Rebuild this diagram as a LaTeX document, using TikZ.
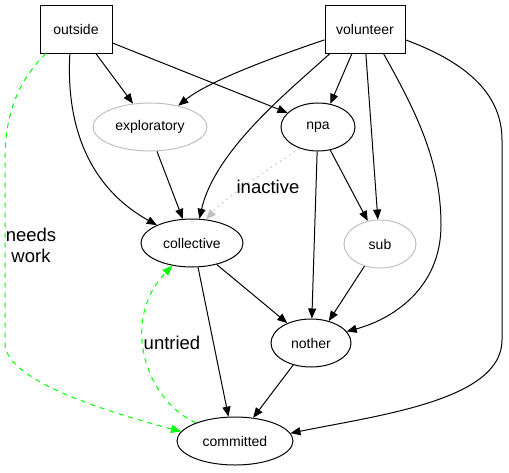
\documentclass[tikz,border=0pt]{standalone}
\usepackage{fontspec}
\setmainfont{Liberation Sans}
\usetikzlibrary{shapes.geometric,arrows.meta}
\definecolor{lime}{HTML}{00FF00}
\definecolor{silver}{HTML}{C0C0C0}
\tikzset{
  boxnode/.style={draw=black,line width=1pt,rectangle,minimum width=72pt,minimum height=48pt,inner sep=0pt,font=\fontsize{14}{16}\selectfont},
  ellnode/.style={draw=black,line width=1pt,ellipse,minimum height=48pt,inner sep=0pt,font=\fontsize{14}{16}\selectfont},
  greynode/.style={ellnode,draw=silver},
  edge/.style={line width=1pt,-{Triangle[length=10pt,width=8pt]}},
  greenedge/.style={edge,draw=lime,dash pattern=on 5pt off 5pt,-{Triangle[length=10pt,width=8pt,fill=lime]},color=lime},
  greyedge/.style={edge,draw=silver,dash pattern=on 1.5pt off 4pt,color=silver},
  elabel/.style={font=\fontsize{18.5}{21}\selectfont,align=center,inner sep=0pt}
}
\begin{document}
\begin{tikzpicture}[x=1pt,y=-1pt]
\useasboundingbox (0,0) rectangle (509,472);
\node[boxnode] (outside) at (76,29) {outside};
\node[boxnode,minimum width=80pt] (volunteer) at (365,29) {volunteer};
\node[greynode,minimum width=114pt] (exploratory) at (150,127) {exploratory};
\node[ellnode,minimum width=74pt] (npa) at (318,127) {npa};
\node[ellnode,minimum width=102pt] (collective) at (192,243) {collective};
\node[greynode,minimum width=72pt] (sub) at (380,244) {sub};
\node[ellnode,minimum width=80pt] (nother) at (311,343) {nother};
\node[ellnode,minimum width=116pt] (committed) at (235,441) {committed};

% outside edges
\draw[edge] (outside.-51.6) -- (exploratory.126);
\draw[edge] (outside.-21) -- (npa.155);
\draw[edge] (outside.-104) .. controls (66,120) and (85,185) .. (collective.153);
\draw[greenedge] (outside.-141) .. controls (20,80) and (5,110) .. (5,160) -- (5,345) .. controls (8,380) and (100,410) .. (committed.170);
\node[elabel] (needswork) at (31,245) {needs\\work};

% volunteer edges
\draw[edge] (volunteer.-165) .. controls (280,55) and (210,80) .. (exploratory.37);
\draw[edge] (volunteer.-145.6) .. controls (290,90) and (215,150) .. (collective.73);
\draw[edge] (volunteer.-118) -- (npa.62);
\draw[edge] (volunteer.-88) -- (sub.95);
\draw[edge] (volunteer.-53) .. controls (415,110) and (441,160) .. (441,225) .. controls (441,290) and (390,320) .. (nother.18);
\draw[edge] (volunteer.-15) .. controls (460,60) and (502,90) .. (502,140) -- (502,340) .. controls (502,400) and (380,415) .. (committed.8);

% npa edges
\draw[greyedge] (npa.-131) .. controls (275,165) and (228,195) .. (collective.59);
\node[elabel] (inactive) at (268,187) {inactive};
\draw[edge] (npa.-62) -- (sub.118);
\draw[edge] (npa.-92) -- (nother.88);

% other edges
\draw[edge] (exploratory.-74) -- (collective.111);
\draw[edge] (collective.-41.5) -- (nother.140);
\draw[edge] (collective.-76) -- (committed.105);
\draw[greenedge] (committed.155) .. controls (145,400) and (120,320) .. (collective.-131);
\node[elabel] (untried) at (172,343) {untried};
\draw[edge] (sub.-125) -- (nother.51);
\draw[edge] (nother.-129) -- (committed.52);
\end{tikzpicture}
\end{document}
